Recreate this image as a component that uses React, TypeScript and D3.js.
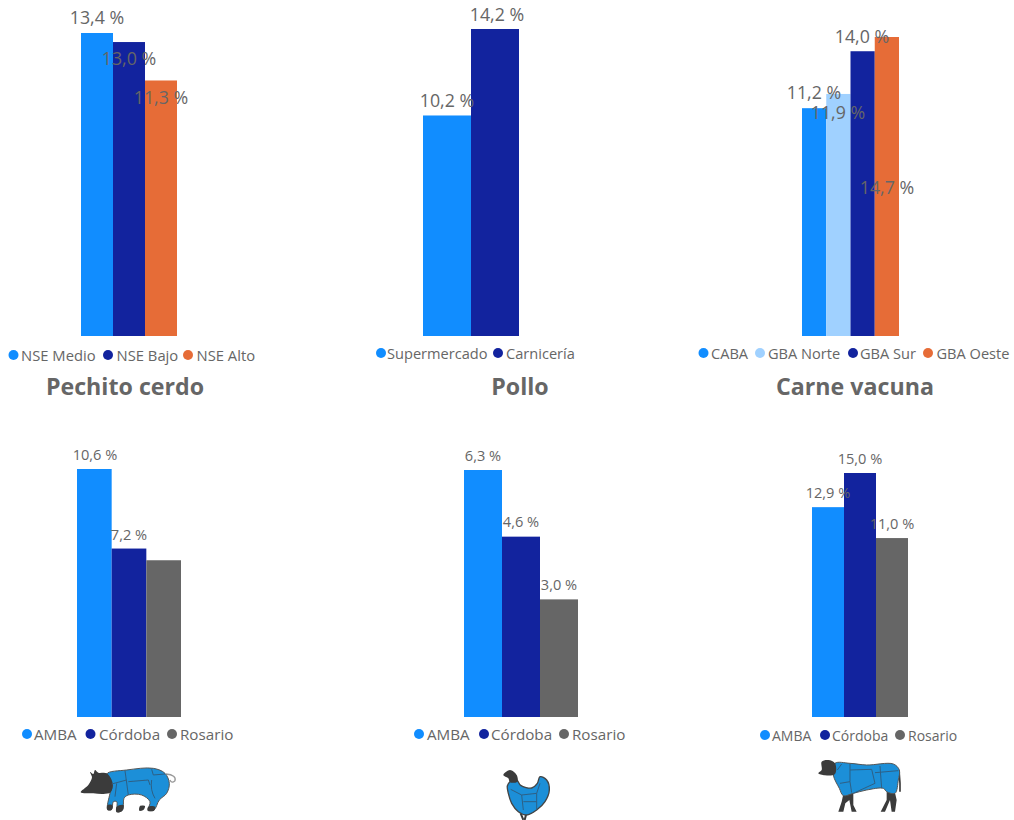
import React from "react";
import * as d3 from "d3";

const BLUE = "#118DFF", NAVY = "#12239E", ORANGE = "#E66C37", GRAY = "#666666", LIGHT = "#A0D1FF";
const TEXT = "#666666";
const FONT = "'Open Sans', 'Noto Sans', sans-serif";

// ---- data ----
const cerdoCats = ["NSE Medio", "NSE Bajo", "NSE Alto"];
const cerdoVals = [13.4, 13.0, 11.3];
const polloCats = ["Supermercado", "Carnicería"];
const polloVals = [10.2, 14.2];
const vacunaCats = ["CABA", "GBA Norte", "GBA Sur", "GBA Oeste"];
const vacunaVals = [11.2, 11.9, 14.0, 14.7];
const ciudades = ["AMBA", "Córdoba", "Rosario"];
const cerdoCiudadVals = [10.6, 7.2, 6.7];
const polloCiudadVals = [6.3, 4.6, 3.0];
const vacunaCiudadVals = [12.9, 15.0, 11.0];

// ---- layout ----
type Panel = {
  cats: string[]; vals: number[]; colors: string[];
  x: [number, number]; top: number; base: number; max: number;
  labelSize: number; labelX: number[]; labelY: (number | null)[];
  legendY: number; legendSize: number; dotX: number[]; textX: number[];
};

const panels: Panel[] = [
  { cats: cerdoCats, vals: cerdoVals, colors: [BLUE, NAVY, ORANGE], x: [81, 177], top: 33, base: 336, max: 13.4,
    labelSize: 17.8, labelX: [97, 129, 161], labelY: [17, 58, 97],
    legendY: 355, legendSize: 14.8, dotX: [13.5, 108, 188], textX: [21, 116.5, 196.5] },
  { cats: polloCats, vals: polloVals, colors: [BLUE, NAVY], x: [423, 519], top: 29, base: 336, max: 14.2,
    labelSize: 17.8, labelX: [447, 497], labelY: [100, 14],
    legendY: 353, legendSize: 14.6, dotX: [381, 498], textX: [387, 506] },
  { cats: vacunaCats, vals: vacunaVals, colors: [BLUE, LIGHT, NAVY, ORANGE], x: [802, 899], top: 37, base: 336, max: 14.7,
    labelSize: 17.8, labelX: [814, 838, 862, 887], labelY: [92, 112, 36, 187],
    legendY: 353, legendSize: 14.6, dotX: [703.5, 760, 853, 928], textX: [711, 768, 860, 936.5] },
  { cats: ciudades, vals: cerdoCiudadVals, colors: [BLUE, NAVY, GRAY], x: [77, 181], top: 469, base: 717, max: 10.6,
    labelSize: 14.6, labelX: [95, 129, 0], labelY: [454, 534, null],
    legendY: 734, legendSize: 15.2, dotX: [27, 90.5, 172], textX: [34, 99, 180] },
  { cats: ciudades, vals: polloCiudadVals, colors: [BLUE, NAVY, GRAY], x: [464, 578], top: 470, base: 717, max: 6.3,
    labelSize: 14.6, labelX: [483, 521, 559], labelY: [455, 521, 584],
    legendY: 734, legendSize: 15.2, dotX: [419, 484, 564], textX: [427, 491, 572] },
  { cats: ciudades, vals: vacunaCiudadVals, colors: [BLUE, NAVY, GRAY], x: [812, 908], top: 473, base: 717, max: 15.0,
    labelSize: 14.6, labelX: [828, 860, 892], labelY: [492, 458, 523],
    legendY: 735, legendSize: 14, dotX: [765, 825, 900], textX: [772, 832, 908] },
];

const titles = [
  { text: "Pechito cerdo", x: 125 },
  { text: "Pollo", x: 520 },
  { text: "Carne vacuna", x: 855 },
];

const pct = (v: number) => d3.format(".1f")(v).replace(".", ",") + " %";

function BarPanel({ p }: { p: Panel }) {
  const x = d3.scaleBand<string>().domain(p.cats).range(p.x).paddingInner(0).paddingOuter(0);
  const y = d3.scaleLinear().domain([0, p.max]).range([p.base, p.top]);
  return (
    <g>
      {p.cats.map((c, i) => (
        <rect key={c} x={x(c)} y={y(p.vals[i])} width={x.bandwidth()} height={p.base - y(p.vals[i])} fill={p.colors[i]} />
      ))}
      {p.cats.map((c, i) =>
        p.labelY[i] === null ? null : (
          <text key={c} x={p.labelX[i]} y={p.labelY[i] as number} textAnchor="middle" dominantBaseline="central"
            fontSize={p.labelSize} fill={TEXT} fontFamily={FONT}>
            {pct(p.vals[i])}
          </text>
        )
      )}
      {p.cats.map((c, i) => (
        <g key={c}>
          <circle cx={p.dotX[i]} cy={p.legendY} r={5} fill={p.colors[i]} />
          <text x={p.textX[i]} y={p.legendY} dominantBaseline="central" fontSize={p.legendSize} fill={TEXT} fontFamily={FONT}>{c}</text>
        </g>
      ))}
    </g>
  );
}

const ICON_BLUE = "#1A8FD8", ICON_DARK = "#3A3A3A", ICON_LINE = "#2F5F85";
type Pt = [number, number];
const blob = d3.line().curve(d3.curveCatmullRomClosed.alpha(0.5));

const pigBody: Pt[] = [[140,42],[200,30],[280,25],[315,40],[328,70],[320,100],[298,120],[282,150],[265,150],[270,125],[245,105],[205,105],[192,115],[188,150],[172,155],[170,125],[160,125],[155,148],[143,148],[150,100],[157,75]];
const pigHead: Pt[] = [[140,40],[115,38],[105,30],[100,42],[90,36],[96,52],[85,75],[62,97],[100,100],[130,102],[152,97],[158,70]];
const pigFeet: Pt[][] = [[[143,135],[157,135],[155,150],[142,150]], [[170,140],[190,135],[187,152],[170,157]], [[240,138],[255,138],[250,150],[238,152]], [[265,140],[285,140],[282,152],[263,152]]];
const henBody: Pt[] = [[60,65],[80,60],[92,76],[125,84],[142,70],[150,50],[170,60],[178,90],[165,125],[140,150],[110,165],[85,155],[65,130],[55,100],[52,78]];
const henHead: Pt[] = [[40,45],[60,30],[80,45],[82,65],[60,67],[55,55]];
const cowBody: Pt[] = [[105,40],[150,40],[200,45],[280,42],[298,60],[295,90],[285,130],[260,125],[250,115],[200,120],[160,130],[130,137],[118,115],[100,75]];
const cowHead: Pt[] = [[55,70],[65,60],[65,35],[85,30],[105,40],[105,72],[75,76]];
const cowLegs: Pt[][] = [[[130,132],[160,128],[160,165],[170,185],[155,185],[148,150],[136,160],[130,185],[115,185],[125,155]], [[260,122],[285,128],[290,150],[285,185],[275,185],[270,150],[255,185],[242,185],[260,150]]];

function Pig() {
  return (
    <g transform="translate(60,760) scale(0.3333)" strokeLinejoin="round" filter="url(#soft)">
      <path d="M318,42 Q350,45 345,62 Q335,72 330,60" fill="none" stroke="#999" strokeWidth={4} />
      <path d={blob(pigBody)!} fill={ICON_BLUE} stroke="#555" strokeWidth={3} />
      {pigFeet.map((f, i) => <path key={i} d={blob(f)!} fill={ICON_DARK} />)}
      <path d={blob(pigHead)!} fill={ICON_DARK} />
      <path d="M195,32 L205,105 M155,72 L200,60 M205,65 L265,60 L270,75 M275,28 L280,45 L315,42 M275,60 Q270,90 285,115 M165,110 L170,70" fill="none" stroke={ICON_LINE} strokeWidth={3} />
    </g>
  );
}

function Chicken() {
  return (
    <g transform="translate(490,760) scale(0.3333)" strokeLinejoin="round" filter="url(#soft)">
      <path d="M92,160 L100,180 M108,165 L104,180" stroke={ICON_DARK} strokeWidth={6} fill="none" />
      <path d={blob(henBody)!} fill={ICON_BLUE} stroke="#444" strokeWidth={4} />
      <path d={blob(henHead)!} fill={ICON_DARK} />
      <path d="M62,88 L95,105 L140,100 L150,70 M95,105 L100,150 M140,100 L140,148 M100,125 L140,125" fill="none" stroke={ICON_LINE} strokeWidth={3} />
    </g>
  );
}

function Cow() {
  return (
    <g transform="translate(800,750) scale(0.3333)" strokeLinejoin="round" filter="url(#soft)">
      <path d="M297,60 L300,100 L300,125" fill="none" stroke={ICON_DARK} strokeWidth={5} />
      {cowLegs.map((l, i) => <path key={i} d={"M" + l.join("L") + "Z"} fill={ICON_DARK} />)}
      <path d={blob(cowBody)!} fill={ICON_BLUE} stroke="#555" strokeWidth={3} />
      <path d={blob(cowHead)!} fill={ICON_DARK} />
      <path d="M150,42 L150,95 L120,100 M112,60 L125,42 M150,60 L215,58 L225,100 L160,130 M150,95 L155,128 M240,48 L245,115 M225,68 L295,62" fill="none" stroke={ICON_LINE} strokeWidth={3} />
    </g>
  );
}

export default function App() {
  return (
    <svg width={1014} height={820} style={{ position: "absolute", left: 0, top: 0, background: "#fff" }}>
      <defs>
        <filter id="soft"><feGaussianBlur stdDeviation="1.2" /></filter>
      </defs>
      {panels.map((p, i) => <BarPanel key={i} p={p} />)}
      {titles.map(t => (
        <text key={t.text} x={t.x} y={386} textAnchor="middle" dominantBaseline="central"
          fontSize={23.2} fontWeight={700} fill={TEXT} fontFamily={FONT}>{t.text}</text>
      ))}
      <Pig />
      <Chicken />
      <Cow />
    </svg>
  );
}
